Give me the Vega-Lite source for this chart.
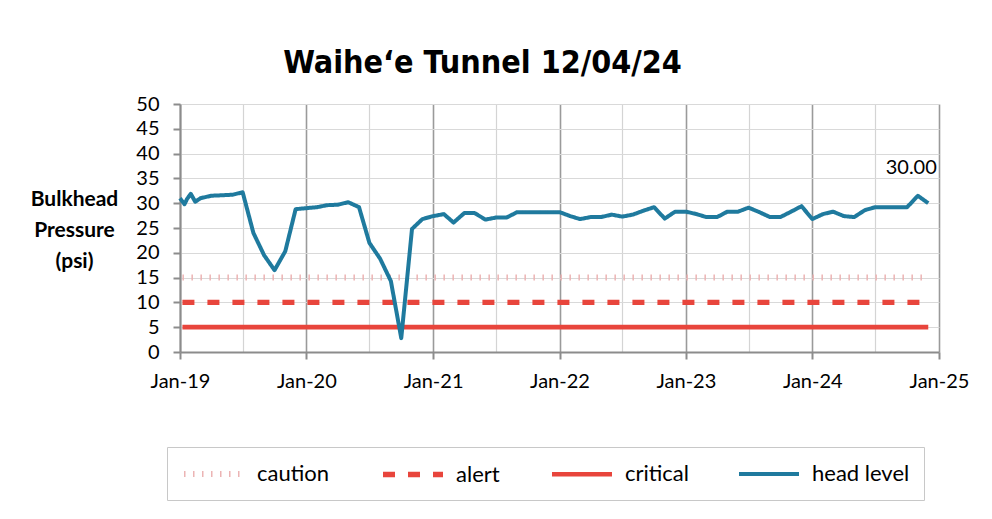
{
  "$schema": "https://vega.github.io/schema/vega-lite/v6.json",
  "autosize": {"type": "none"},
  "padding": {"left": 180, "top": 104, "right": 53, "bottom": 167},
  "width": 759,
  "height": 248,
  "background": "white",
  "title": {
    "text": "Waihe‘e Tunnel 12/04/24",
    "font": "DejaVu Sans Condensed, Liberation Sans, sans-serif",
    "fontSize": 32,
    "fontWeight": "bold",
    "color": "#000000",
    "anchor": "middle",
    "frame": "group",
    "baseline": "alphabetic",
    "offset": -11,
    "dx": -77
  },
  "config": {
    "view": {"stroke": null},
    "font": "Lato"
  },
  "data": {
    "values": [
      {"date": "2019-01-08T00:00", "value": 15, "series": "caution"},
      {"date": "2024-12-01T00:00", "value": 15, "series": "caution"},
      {"date": "2019-01-08T00:00", "value": 10, "series": "alert"},
      {"date": "2024-12-01T00:00", "value": 10, "series": "alert"},
      {"date": "2019-01-08T00:00", "value": 5, "series": "critical"},
      {"date": "2024-12-01T00:00", "value": 5, "series": "critical"},
      {"date": "2019-01-01T00:00", "value": 31.0, "series": "head level"},
      {"date": "2019-01-14T00:00", "value": 29.8, "series": "head level"},
      {"date": "2019-01-21T00:00", "value": 30.8, "series": "head level"},
      {"date": "2019-02-01T00:00", "value": 31.9, "series": "head level"},
      {"date": "2019-02-14T00:00", "value": 30.3, "series": "head level"},
      {"date": "2019-03-01T00:00", "value": 31.0, "series": "head level"},
      {"date": "2019-04-01T00:00", "value": 31.5, "series": "head level"},
      {"date": "2019-05-01T00:00", "value": 31.6, "series": "head level"},
      {"date": "2019-06-01T00:00", "value": 31.7, "series": "head level"},
      {"date": "2019-07-01T00:00", "value": 32.2, "series": "head level"},
      {"date": "2019-08-01T00:00", "value": 24.0, "series": "head level"},
      {"date": "2019-09-01T00:00", "value": 19.5, "series": "head level"},
      {"date": "2019-10-01T00:00", "value": 16.5, "series": "head level"},
      {"date": "2019-11-01T00:00", "value": 20.3, "series": "head level"},
      {"date": "2019-12-01T00:00", "value": 28.8, "series": "head level"},
      {"date": "2020-01-01T00:00", "value": 29.0, "series": "head level"},
      {"date": "2020-02-01T00:00", "value": 29.2, "series": "head level"},
      {"date": "2020-03-01T00:00", "value": 29.6, "series": "head level"},
      {"date": "2020-04-01T00:00", "value": 29.7, "series": "head level"},
      {"date": "2020-05-01T00:00", "value": 30.2, "series": "head level"},
      {"date": "2020-06-01T00:00", "value": 29.2, "series": "head level"},
      {"date": "2020-07-01T00:00", "value": 22.0, "series": "head level"},
      {"date": "2020-08-01T00:00", "value": 18.8, "series": "head level"},
      {"date": "2020-09-01T00:00", "value": 14.3, "series": "head level"},
      {"date": "2020-10-01T00:00", "value": 2.8, "series": "head level"},
      {"date": "2020-11-01T00:00", "value": 24.8, "series": "head level"},
      {"date": "2020-12-01T00:00", "value": 26.8, "series": "head level"},
      {"date": "2021-01-01T00:00", "value": 27.4, "series": "head level"},
      {"date": "2021-02-01T00:00", "value": 27.8, "series": "head level"},
      {"date": "2021-03-01T00:00", "value": 26.1, "series": "head level"},
      {"date": "2021-04-01T00:00", "value": 28.0, "series": "head level"},
      {"date": "2021-05-01T00:00", "value": 28.0, "series": "head level"},
      {"date": "2021-06-01T00:00", "value": 26.7, "series": "head level"},
      {"date": "2021-07-01T00:00", "value": 27.1, "series": "head level"},
      {"date": "2021-08-01T00:00", "value": 27.1, "series": "head level"},
      {"date": "2021-09-01T00:00", "value": 28.2, "series": "head level"},
      {"date": "2021-10-01T00:00", "value": 28.2, "series": "head level"},
      {"date": "2021-11-01T00:00", "value": 28.2, "series": "head level"},
      {"date": "2021-12-01T00:00", "value": 28.2, "series": "head level"},
      {"date": "2022-01-01T00:00", "value": 28.2, "series": "head level"},
      {"date": "2022-02-01T00:00", "value": 27.4, "series": "head level"},
      {"date": "2022-03-01T00:00", "value": 26.8, "series": "head level"},
      {"date": "2022-04-01T00:00", "value": 27.2, "series": "head level"},
      {"date": "2022-05-01T00:00", "value": 27.2, "series": "head level"},
      {"date": "2022-06-01T00:00", "value": 27.7, "series": "head level"},
      {"date": "2022-07-01T00:00", "value": 27.3, "series": "head level"},
      {"date": "2022-08-01T00:00", "value": 27.7, "series": "head level"},
      {"date": "2022-09-01T00:00", "value": 28.5, "series": "head level"},
      {"date": "2022-10-01T00:00", "value": 29.2, "series": "head level"},
      {"date": "2022-11-01T00:00", "value": 26.9, "series": "head level"},
      {"date": "2022-12-01T00:00", "value": 28.3, "series": "head level"},
      {"date": "2023-01-01T00:00", "value": 28.3, "series": "head level"},
      {"date": "2023-02-01T00:00", "value": 27.8, "series": "head level"},
      {"date": "2023-03-01T00:00", "value": 27.2, "series": "head level"},
      {"date": "2023-04-01T00:00", "value": 27.2, "series": "head level"},
      {"date": "2023-05-01T00:00", "value": 28.3, "series": "head level"},
      {"date": "2023-06-01T00:00", "value": 28.3, "series": "head level"},
      {"date": "2023-07-01T00:00", "value": 29.1, "series": "head level"},
      {"date": "2023-08-01T00:00", "value": 28.2, "series": "head level"},
      {"date": "2023-09-01T00:00", "value": 27.2, "series": "head level"},
      {"date": "2023-10-01T00:00", "value": 27.2, "series": "head level"},
      {"date": "2023-11-01T00:00", "value": 28.3, "series": "head level"},
      {"date": "2023-12-01T00:00", "value": 29.4, "series": "head level"},
      {"date": "2024-01-01T00:00", "value": 26.8, "series": "head level"},
      {"date": "2024-02-01T00:00", "value": 27.8, "series": "head level"},
      {"date": "2024-03-01T00:00", "value": 28.3, "series": "head level"},
      {"date": "2024-04-01T00:00", "value": 27.4, "series": "head level"},
      {"date": "2024-05-01T00:00", "value": 27.2, "series": "head level"},
      {"date": "2024-06-01T00:00", "value": 28.6, "series": "head level"},
      {"date": "2024-07-01T00:00", "value": 29.2, "series": "head level"},
      {"date": "2024-08-01T00:00", "value": 29.2, "series": "head level"},
      {"date": "2024-09-01T00:00", "value": 29.2, "series": "head level"},
      {"date": "2024-10-01T00:00", "value": 29.2, "series": "head level"},
      {"date": "2024-11-01T00:00", "value": 31.5, "series": "head level"},
      {"date": "2024-12-01T00:00", "value": 30.0, "series": "head level"}
    ]
  },
  "encoding": {
    "x": {
      "field": "date",
      "type": "temporal",
      "scale": {
        "domain": [{"year": 2019, "month": 1, "date": 1}, {"year": 2025, "month": 1, "date": 1}],
        "nice": false
      },
      "axis": {
        "title": null,
        "tickCount": {"interval": "month", "step": 6},
        "labelExpr": "month(datum.value) == 0 ? timeFormat(datum.value, '%b-%y') : ''",
        "labelFlush": false,
        "labelOverlap": false,
        "labelFont": "Lato",
        "labelFontSize": 20,
        "labelColor": "#000000",
        "labelPadding": 12,
        "domainColor": "#8c8c8c",
        "domainWidth": 2,
        "tickColor": "#8c8c8c",
        "tickWidth": 2,
        "tickSize": 7,
        "tickOpacity": {"condition": {"test": "month(datum.value) == 0", "value": 1}, "value": 0},
        "grid": true,
        "gridColor": {"condition": {"test": "month(datum.value) == 0", "value": "#9a9a9a"}, "value": "#d4d4d4"},
        "gridWidth": {"condition": {"test": "month(datum.value) == 0", "value": 1.6}, "value": 1.2}
      }
    },
    "y": {
      "field": "value",
      "type": "quantitative",
      "scale": {"domain": [0, 50], "nice": false, "zero": true},
      "axis": {
        "values": [0, 5, 10, 15, 20, 25, 30, 35, 40, 45, 50],
        "title": ["Bulkhead", "Pressure", "(psi)"],
        "titleAngle": 0,
        "titleAlign": "center",
        "titleBaseline": "top",
        "titleX": -106,
        "titleY": 84,
        "titleFont": "Lato",
        "titleFontSize": 21,
        "titleFontWeight": "bold",
        "titleLineHeight": 31,
        "titleColor": "#000000",
        "labelFont": "Lato",
        "labelFontSize": 20,
        "labelColor": "#000000",
        "labelPadding": 14,
        "domainColor": "#8c8c8c",
        "domainWidth": 2,
        "tickColor": "#8c8c8c",
        "tickWidth": 2,
        "tickSize": 7,
        "grid": true,
        "gridColor": "#d9d9d9",
        "gridWidth": 1.2
      }
    }
  },
  "layer": [
    {
      "mark": {"type": "line", "strokeJoin": "round", "strokeCap": "butt"},
      "encoding": {
        "color": {
          "field": "series",
          "type": "nominal",
          "sort": ["caution", "alert", "critical", "head level"],
          "scale": {
            "domain": ["caution", "alert", "critical", "head level"],
            "range": ["#ecb4b4", "#e8453c", "#e8453c", "#1f7a9e"]
          },
          "legend": {
            "title": null,
            "orient": "none",
            "legendX": -13,
            "legendY": 343,
            "direction": "horizontal",
            "columns": 4,
            "symbolType": "M-1,0H5",
            "symbolSize": 400,
            "labelFont": "Lato",
            "labelFontSize": 22,
            "labelColor": "#000000",
            "labelOffset": 50,
            "columnPadding": 42,
            "padding": 14,
            "strokeColor": "#c8c8c8",
            "fillColor": "#ffffff"
          }
        },
        "strokeDash": {
          "field": "series",
          "type": "nominal",
          "sort": ["caution", "alert", "critical", "head level"],
          "scale": {
            "domain": ["caution", "alert", "critical", "head level"],
            "range": [[1.5, 7.5], [12, 13], [1, 0], [1, 0]]
          },
          "legend": null
        },
        "strokeWidth": {
          "field": "series",
          "type": "nominal",
          "sort": ["caution", "alert", "critical", "head level"],
          "scale": {
            "domain": ["caution", "alert", "critical", "head level"],
            "range": [6, 4, 3, 6]
          },
          "legend": null
        }
      }
    },
    {
      "transform": [
        {"filter": "datum.series == 'head level' && year(datum.date) == 2024 && month(datum.date) == 11"}
      ],
      "mark": {
        "type": "text",
        "font": "Lato",
        "fontSize": 20,
        "color": "#000000",
        "align": "center",
        "baseline": "alphabetic",
        "dx": -17,
        "dy": -29
      },
      "encoding": {
        "text": {"field": "value", "type": "quantitative", "format": ".2f"}
      }
    }
  ]
}
